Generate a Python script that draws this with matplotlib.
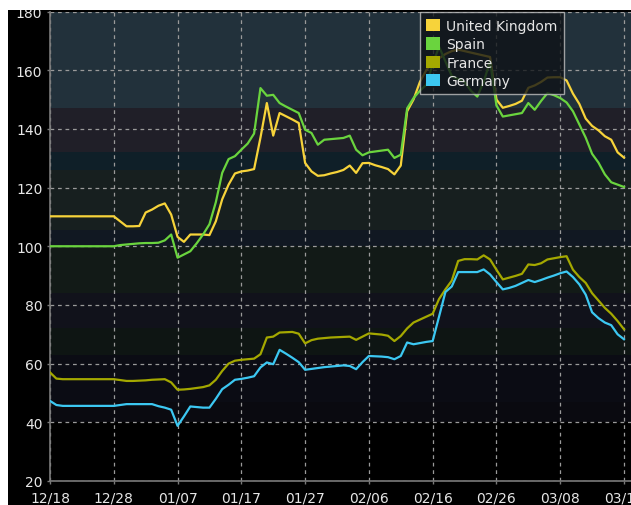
"""
European price comparison chart — recreated in matplotlib.

Four daily series (UK, Spain, France, Germany) on a banded dark
background, Bloomberg-terminal style. Writes out.png.
"""

from __future__ import annotations

import matplotlib

matplotlib.use("Agg")

import matplotlib.dates as mdates
import matplotlib.pyplot as plt
import numpy as np
import pandas as pd
from matplotlib.patches import Patch, Rectangle

# --- data (daily, 2016-12-18 .. 2017-03-18) ---------------------------------
START_DATE = "2016-12-18"

uk = [
    110.2, 110.2, 110.2, 110.2, 110.2, 110.2, 110.2, 110.2, 110.2, 110.2,
    110.2, 108.5, 106.8, 106.8, 106.9, 111.5, 112.5, 113.8, 114.6, 110.8,
    103.2, 101.5, 104.0, 104.0, 104.0, 103.8, 108.5, 116.0, 121.0, 124.8,
    125.5, 125.8, 126.3, 137.0, 148.8, 137.7, 145.4, 144.3, 143.2, 142.0,
    128.4, 125.5, 124.0, 124.2, 124.8, 125.3, 126.0, 127.5, 125.0, 128.3,
    128.4, 127.6, 127.0, 126.3, 124.5, 127.5, 146.0, 150.0, 156.0, 160.0,
    162.5, 164.0, 165.5, 166.5, 167.0, 166.5, 166.0, 165.5, 165.0, 164.5,
    150.0, 147.2, 147.8, 148.5, 149.6, 154.0, 154.8, 156.0, 157.5, 157.6,
    157.6, 156.5, 152.0, 148.5, 143.5, 141.0, 139.5, 137.5, 136.3, 132.0,
    130.2,
]

spain = [
    100.0, 100.0, 100.0, 100.0, 100.0, 100.0, 100.0, 100.0, 100.0, 100.0,
    100.0, 100.4, 100.6, 100.8, 101.0, 101.1, 101.1, 101.2, 102.0, 104.0,
    96.1, 97.2, 98.3, 101.0, 104.0, 107.5, 115.0, 125.0, 129.7, 130.7,
    132.9, 135.0, 138.4, 153.9, 151.3, 151.6, 148.8, 147.6, 146.5, 145.4,
    139.7, 138.6, 134.6, 136.3, 136.5, 136.7, 136.9, 137.7, 132.9, 131.0,
    132.0, 132.3, 132.6, 132.9, 130.1, 131.2, 147.0, 150.5, 153.0, 155.0,
    162.0, 168.0, 163.0, 158.0, 157.0, 156.0, 153.0, 151.0, 156.0, 163.0,
    148.0, 144.2, 144.6, 145.0, 145.4, 148.8, 146.5, 149.5, 152.2, 151.5,
    150.5, 149.0, 146.0, 141.5, 137.0, 131.5, 128.5, 124.5, 121.8, 121.0,
    120.2,
]

france = [
    57.0, 54.9, 54.7, 54.7, 54.7, 54.7, 54.7, 54.7, 54.7, 54.7,
    54.7, 54.4, 54.1, 54.1, 54.2, 54.3, 54.5, 54.6, 54.7, 53.6,
    51.1, 51.2, 51.4, 51.7, 52.0, 52.6, 54.5, 57.5, 60.0, 61.0,
    61.3, 61.5, 61.7, 63.2, 68.9, 69.2, 70.6, 70.7, 70.8, 70.2,
    66.9, 68.0, 68.5, 68.7, 68.9, 69.0, 69.1, 69.2, 68.1, 69.2,
    70.3, 70.1, 69.9, 69.5, 67.7, 69.4, 72.0, 74.0, 75.0, 76.0,
    77.0, 82.0, 85.3, 88.3, 95.0, 95.6, 95.6, 95.5, 96.9, 95.5,
    92.0, 88.7, 89.3, 89.9, 90.6, 93.8, 93.6, 94.2, 95.5, 95.9,
    96.3, 96.6, 92.0, 89.5, 87.5, 84.0, 81.5, 79.0, 77.0, 74.5,
    71.7,
]

germany = [
    47.3, 45.9, 45.6, 45.6, 45.6, 45.6, 45.6, 45.6, 45.6, 45.6,
    45.6, 45.9, 46.2, 46.2, 46.2, 46.2, 46.2, 45.5, 45.0, 44.3,
    38.8, 42.0, 45.4, 45.2, 45.0, 45.0, 48.0, 51.3, 52.8, 54.5,
    54.8, 55.2, 55.7, 58.7, 60.4, 59.8, 64.7, 63.4, 62.0, 60.5,
    57.9, 58.2, 58.5, 58.8, 59.0, 59.2, 59.4, 59.2, 58.1, 60.5,
    62.6, 62.5, 62.4, 62.2, 61.5, 62.6, 67.2, 66.6, 67.0, 67.4,
    67.7, 76.0, 84.4, 86.3, 91.2, 91.2, 91.2, 91.2, 92.1, 90.4,
    87.8, 85.3, 85.8, 86.5, 87.5, 88.5, 87.8, 88.5, 89.3, 90.0,
    90.8, 91.4, 89.5, 87.0, 83.5, 77.5, 75.5, 74.0, 73.1, 70.0,
    68.3,
]

series_names = ["United Kingdom", "Spain", "France", "Germany"]
series_colors = ["#f7d33a", "#6ad43e", "#a4a800", "#3cc8f2"]

y_ticks = [20, 40, 60, 80, 100, 120, 140, 160, 180]

# background bands (value range -> colour), darker towards the bottom
BANDS = [
    (20, 40, "#000000"),
    (40, 47, "#0a0a10"),
    (47, 63, "#0b0c14"),
    (63, 72, "#0e1513"),
    (72, 84, "#11121b"),
    (84, 100, "#121a17"),
    (100, 105.5, "#111822"),
    (105.5, 126, "#171f1f"),
    (126, 132, "#0f1f28"),
    (132, 147, "#201f28"),
    (147, 180, "#22313b"),
]

W, H, DPI = 631, 506, 100
TEXT_C = "#e6e6e6"
GRID_C = "#9a9a9a"
SPINE_C = "#7a7a7a"


def build_chart() -> plt.Figure:
    dates = pd.date_range(START_DATE, periods=len(uk), freq="D")
    x0 = pd.Timestamp(START_DATE)

    fig = plt.figure(figsize=(W / DPI, H / DPI), dpi=DPI, facecolor="black")
    # axes box in pixels: x 50..631, y 12.5..482 (from top)
    ax = fig.add_axes([50 / W, (H - 482) / H, (W - 50) / W, (482 - 12.5) / H])
    ax.set_facecolor("black")

    for lo, hi, c in BANDS:
        ax.axhspan(lo, hi, color=c, lw=0, zorder=0)

    for vals, name, col in zip([uk, spain, france, germany], series_names, series_colors):
        ax.plot(dates, vals, color=col, lw=1.6, label=name, zorder=3, solid_joinstyle="round")

    ax.set_ylim(20, 180)
    ax.set_xlim(x0, x0 + pd.Timedelta(days=91.1))
    ax.set_yticks(y_ticks)
    ax.set_xticks(pd.date_range(START_DATE, periods=10, freq="10D"))
    ax.xaxis.set_major_formatter(mdates.DateFormatter("%m/%d"))

    ax.grid(True, color=GRID_C, lw=0.9, ls=(0, (3, 3)), zorder=1)
    for side in ("top", "right"):
        ax.spines[side].set_visible(False)
    for side in ("left", "bottom"):
        ax.spines[side].set_color(SPINE_C)
        ax.spines[side].set_linewidth(1.2)
    ax.tick_params(colors=SPINE_C, labelcolor=TEXT_C, labelsize=10, length=2.5, width=1)
    ax.tick_params(axis="x", pad=4)
    ax.tick_params(axis="y", pad=3)

    handles = [Patch(facecolor=c, edgecolor="none") for c in series_colors]
    leg = ax.legend(
        handles, series_names, loc="upper left", bbox_to_anchor=(0.637, 0.998),
        borderaxespad=0, fontsize=10, labelspacing=0.32, handlelength=1.0,
        handleheight=1.0, handletextpad=0.45, borderpad=0.45, fancybox=False,
        framealpha=0.78, facecolor="#0e1216", edgecolor="#c4c4c4",
    )
    leg.get_frame().set_linewidth(1.0)
    for t in leg.get_texts():
        t.set_color(TEXT_C)

    # white margins of the original screenshot (top and left)
    fig.add_artist(Rectangle((0, 1 - 11 / H), 1, 11 / H, transform=fig.transFigure,
                             facecolor="white", edgecolor="none", zorder=20))
    fig.add_artist(Rectangle((0, 0), 8 / W, 1, transform=fig.transFigure,
                             facecolor="white", edgecolor="none", zorder=20))
    return fig


def main() -> None:
    fig = build_chart()
    fig.savefig("out.png", dpi=DPI, facecolor=fig.get_facecolor())
    plt.close(fig)


if __name__ == "__main__":
    main()
